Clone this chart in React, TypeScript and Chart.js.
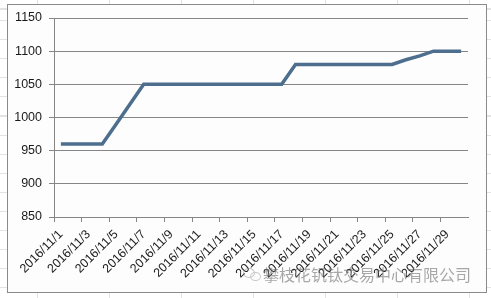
import React, { useEffect, useRef } from "react";
import { Chart, registerables } from "chart.js";

Chart.register(...registerables);

const categories = [
  "2016/11/1", "2016/11/2", "2016/11/3", "2016/11/4", "2016/11/5", "2016/11/6",
  "2016/11/7", "2016/11/8", "2016/11/9", "2016/11/10", "2016/11/11", "2016/11/12",
  "2016/11/13", "2016/11/14", "2016/11/15", "2016/11/16", "2016/11/17", "2016/11/18",
  "2016/11/19", "2016/11/20", "2016/11/21", "2016/11/22", "2016/11/23", "2016/11/24",
  "2016/11/25", "2016/11/26", "2016/11/27", "2016/11/28", "2016/11/29", "2016/11/30",
];

const prices = [
  960, 960, 960, 960, 990, 1020,
  1050, 1050, 1050, 1050, 1050, 1050,
  1050, 1050, 1050, 1050, 1050, 1080,
  1080, 1080, 1080, 1080, 1080, 1080,
  1080, 1087, 1093, 1100, 1100, 1100,
];

const yMin = 850;
const yMax = 1150;
const yStep = 50;

const watermark = "攀枝花钒钛交易中心有限公司";

export default function App() {
  const ref = useRef<HTMLCanvasElement | null>(null);

  useEffect(() => {
    if (!ref.current) return;
    const chart = new Chart(ref.current, {
      type: "line",
      data: {
        labels: categories,
        datasets: [
          {
            data: prices,
            borderColor: "#4e6e8e",
            borderWidth: 3.5,
            pointRadius: 0,
            tension: 0,
            fill: false,
            borderCapStyle: "butt",
            borderJoinStyle: "miter",
          },
        ],
      },
      options: {
        animation: false,
        responsive: false,
        devicePixelRatio: 1,
        layout: { padding: { left: 0, top: 18, right: 23, bottom: 0 } },
        plugins: { legend: { display: false }, tooltip: { enabled: false } },
        scales: {
          x: {
            type: "category",
            offset: true,
            afterFit: (s: any) => {
              s.height = 81;
            },
            grid: {
              offset: true,
              drawOnChartArea: false,
              drawTicks: true,
              tickLength: 5,
              color: (ctx: any) => (ctx.index % 2 === 0 ? "#868686" : "rgba(0,0,0,0)"),
              lineWidth: 1,
            },
            border: { display: true, color: "#868686", width: 1 },
            ticks: {
              autoSkip: false,
              minRotation: 45,
              maxRotation: 45,
              padding: 5,
              color: "#1a1a1a",
              font: { family: "Liberation Sans", size: 12.5 },
              callback: (_v: any, i: number) => (i % 2 === 0 ? categories[i] : ""),
            },
          },
          y: {
            min: yMin,
            max: yMax,
            afterFit: (s: any) => {
              s.width = 54;
            },
            grid: {
              color: "#868686",
              lineWidth: 1,
              drawTicks: true,
              tickLength: 5,
            },
            border: { display: true, color: "#868686", width: 1 },
            ticks: {
              stepSize: yStep,
              padding: 7,
              color: "#1a1a1a",
              font: { family: "Liberation Sans", size: 12.5 },
              callback: (v: any) => String(v),
            },
          },
        },
      },
    });
    return () => chart.destroy();
  }, []);

  return (
    <div
      style={{
        position: "fixed",
        left: 0,
        top: 0,
        width: 491,
        height: 298,
        overflow: "hidden",
        backgroundColor: "#ffffff",
        backgroundImage:
          "repeating-linear-gradient(to right, #e3e3e3 0px, #e3e3e3 1px, transparent 1px, transparent 72px), repeating-linear-gradient(to bottom, #e3e3e3 0px, #e3e3e3 1px, transparent 1px, transparent 19.1px)",
        backgroundPosition: "37px 0px, 0px 20px",
      }}
    >
      <div
        style={{
          position: "absolute",
          left: 7,
          top: 4,
          width: 478,
          height: 287,
          border: "1px solid #8a8a8a",
          background: "#fdfdfd",
        }}
      />
      <canvas
        ref={ref}
        width={491}
        height={298}
        style={{ position: "absolute", left: 0, top: 0, width: 491, height: 298 }}
      />
      <div
        style={{
          position: "absolute",
          left: 243,
          top: 267,
          width: 18,
          height: 14,
          opacity: 0.45,
        }}
      >
        <div style={{ position: "absolute", left: 0, top: 1, width: 10, height: 8, border: "1px solid #888", borderRadius: "50%" }} />
        <div style={{ position: "absolute", left: 7, top: 5, width: 9, height: 7, border: "1px solid #888", borderRadius: "50%" }} />
      </div>
      <div
        style={{
          position: "absolute",
          left: 263,
          top: 265,
          fontFamily: "'Noto Sans CJK SC', sans-serif",
          fontSize: 16,
          lineHeight: "18px",
          color: "rgba(110,110,110,0.6)",
          whiteSpace: "nowrap",
          letterSpacing: 0,
        }}
      >
        {watermark}
      </div>
    </div>
  );
}
